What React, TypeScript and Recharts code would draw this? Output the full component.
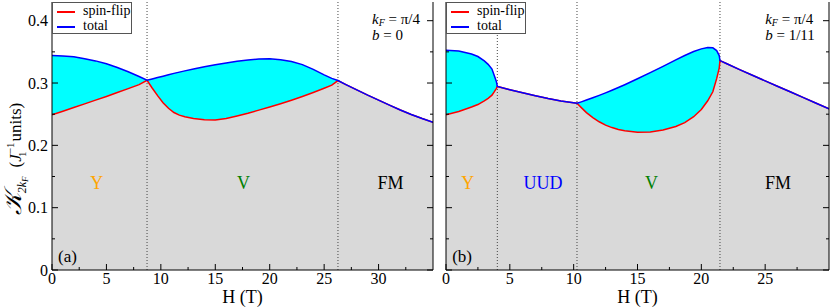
import React from 'react';
import {
  ComposedChart, Area, Line, XAxis, YAxis, ReferenceLine, ReferenceDot, Legend,
} from 'recharts';

// panel (a): b = 0
const hA = [0, 1, 2, 3, 4, 5, 6, 7, 8, 8.73, 9.2, 9.7, 10.2, 10.7, 11.2, 11.7, 12.2, 13, 14, 15, 16, 17, 18, 19, 20, 21, 22, 23, 24, 25, 25.7, 26.27, 27, 28, 29, 30, 31, 32, 33, 34, 35];
const totalA = [0.344, 0.3435, 0.342, 0.339, 0.3355, 0.331, 0.325, 0.318, 0.3105, 0.3045, 0.3065, 0.3088, 0.311, 0.3133, 0.3155, 0.3175, 0.3195, 0.3225, 0.3262, 0.3293, 0.3322, 0.3348, 0.3368, 0.3385, 0.339, 0.3375, 0.3345, 0.3295, 0.322, 0.313, 0.3075, 0.304, 0.2975, 0.289, 0.2805, 0.2725, 0.2645, 0.2567, 0.2495, 0.243, 0.237];
const spinA = [0.249, 0.2548, 0.2606, 0.2665, 0.2725, 0.2785, 0.2848, 0.291, 0.2975, 0.3045, 0.292, 0.2798, 0.2685, 0.2595, 0.2527, 0.2485, 0.2458, 0.2432, 0.2409, 0.2408, 0.2432, 0.2472, 0.2515, 0.2565, 0.2615, 0.2668, 0.2725, 0.2785, 0.2848, 0.2915, 0.2965, 0.304, 0.2975, 0.289, 0.2805, 0.2725, 0.2645, 0.2567, 0.2495, 0.243, 0.237];
const boundsA = [8.73, 26.27];
const xTicksA = [0, 2.5, 5, 7.5, 10, 12.5, 15, 17.5, 20, 22.5, 25, 27.5, 30, 32.5];
const xLabelsA = [0, 5, 10, 15, 20, 25, 30];

// panel (b): b = 1/11
const hB = [0, 1, 2, 2.5, 3, 3.3, 3.6, 3.8, 3.95, 4.02, 5, 6, 7, 8, 9, 10.26, 10.6, 11, 11.5, 12, 12.5, 13, 13.5, 14, 15, 16, 17, 18, 18.7, 19.4, 20, 20.5, 20.9, 21.2, 21.4, 21.46, 22, 23, 24, 25, 26, 27, 28, 29, 30];
const totalB = [0.3525, 0.3515, 0.3465, 0.3425, 0.3355, 0.33, 0.3225, 0.311, 0.302, 0.2945, 0.2893, 0.2843, 0.2795, 0.275, 0.2712, 0.2675, 0.2698, 0.2727, 0.2764, 0.2802, 0.2842, 0.2884, 0.2928, 0.2973, 0.3068, 0.3167, 0.3268, 0.3371, 0.3441, 0.3505, 0.3548, 0.357, 0.3565, 0.352, 0.344, 0.336, 0.331, 0.3215, 0.3125, 0.3035, 0.2945, 0.2855, 0.2765, 0.2675, 0.2585];
const spinB = [0.249, 0.2543, 0.2615, 0.2655, 0.2715, 0.2755, 0.2805, 0.2865, 0.2915, 0.2945, 0.2893, 0.2843, 0.2795, 0.275, 0.2712, 0.2675, 0.2605, 0.2525, 0.2445, 0.2378, 0.2325, 0.2285, 0.2255, 0.2233, 0.2212, 0.2215, 0.2245, 0.2302, 0.2365, 0.246, 0.2575, 0.2715, 0.286, 0.307, 0.324, 0.336, 0.331, 0.3215, 0.3125, 0.3035, 0.2945, 0.2855, 0.2765, 0.2675, 0.2585];
const boundsB = [4.02, 10.26, 21.46];
const xTicksB = [0, 2.5, 5, 7.5, 10, 12.5, 15, 17.5, 20, 22.5, 25, 27.5];
const xLabelsB = [0, 5, 10, 15, 20, 25];

const yTicks = [0, 0.05, 0.1, 0.15, 0.2, 0.25, 0.3, 0.35, 0.4];
const yMax = 0.43;

const phasesA = [
  { text: 'Y', h: 4.1, color: '#FFA500' },
  { text: 'V', h: 17.6, color: '#008000' },
  { text: 'FM', h: 31.1, color: '#000000' },
];
const phasesB = [
  { text: 'Y', h: 1.7, color: '#FFA500' },
  { text: 'UUD', h: 7.6, color: '#0000FF' },
  { text: 'V', h: 16.1, color: '#008000' },
  { text: 'FM', h: 26.0, color: '#000000' },
];

const makeRows = (h: number[], total: number[], spin: number[]) =>
  h.map((v, i) => ({ h: v, total: total[i], spin: spin[i], band: [spin[i], total[i]] }));

const rowsA = makeRows(hA, totalA, spinA);
const rowsB = makeRows(hB, totalB, spinB);

const FONT = '"Liberation Serif", "Times New Roman", serif';

const XTick = (props: any) => {
  const { x, y, payload, top, labels } = props;
  const v = payload.value;
  const major = Math.abs(v % 5) < 1e-6;
  const len = major ? 6 : 3;
  const dir = top ? 1 : -1;
  return (
    <g>
      <line x1={x} x2={x} y1={y} y2={y + dir * len} stroke="#000" strokeWidth={1} />
      {!top && labels.includes(v) && (
        <text x={x} y={y + 14} textAnchor="middle" fontSize={16} fontFamily={FONT} fill="#000">{v}</text>
      )}
    </g>
  );
};

const YTick = (props: any) => {
  const { x, y, payload, right, showLabel } = props;
  const v = payload.value;
  const major = Math.abs(Math.round(v * 100) % 10) === 0;
  const len = major ? 6 : 3;
  const dir = right ? -1 : 1;
  return (
    <g>
      <line x1={x} x2={x + dir * len} y1={y} y2={y} stroke="#000" strokeWidth={1} />
      {showLabel && major && (
        <text x={x - 4} y={y + 5.5} textAnchor="end" fontSize={16} fontFamily={FONT} fill="#000">
          {v === 0 ? '0' : v.toFixed(1)}
        </text>
      )}
    </g>
  );
};

const YTitle = () => (
  <text transform="translate(21,159) rotate(-90)" textAnchor="middle" fontSize={17} fontFamily={FONT} fill="#000">
    <tspan fontSize={24} fontStyle="italic">𝒦</tspan>
    <tspan fontSize={12} fontStyle="italic" dy={5}>2k</tspan>
    <tspan fontSize={9} fontStyle="italic" dy={2}>F</tspan>
    <tspan dy={-7} dx={9}>(</tspan>
    <tspan fontStyle="italic">J</tspan>
    <tspan fontSize={11} dy={-7}>−1</tspan>
    <tspan fontSize={11} dx={-14} dy={12}>1</tspan>
    <tspan dy={-5} dx={10}>units)</tspan>
  </text>
);

const Note = (props: any) => {
  const { viewBox, b } = props;
  const x = viewBox.x;
  const y = viewBox.y;
  return (
    <g fontFamily={FONT} fontSize={14} fill="#000">
      <text x={x} y={y}>
        <tspan fontStyle="italic" fontSize={15}>k</tspan>
        <tspan fontStyle="italic" fontSize={10} dy={2}>F</tspan>
        <tspan dy={-2} fontSize={15}> = π/4</tspan>
      </text>
      <text x={x} y={y + 16}>
        <tspan fontStyle="italic" fontSize={15}>b</tspan>
        <tspan fontSize={15}> = {b}</tspan>
      </text>
    </g>
  );
};

const Tag = (props: any) => {
  const { viewBox, value } = props;
  return (
    <text x={viewBox.x} y={viewBox.y} fontSize={17} fontFamily={FONT} fill="#000">{value}</text>
  );
};

const Phase = (props: any) => {
  const { viewBox, value, color } = props;
  return (
    <text x={viewBox.x} y={viewBox.y + 6} textAnchor="middle" fontSize={18} fontFamily={FONT} fill={color}>{value}</text>
  );
};

const LegendBox = () => (
  <div style={{
    width: 80, height: 32, border: '1px solid #555', background: '#fff', boxSizing: 'border-box',
    position: 'relative', fontFamily: FONT, fontSize: 14, color: '#000',
  }}>
    <div style={{ position: 'absolute', left: 4, top: 8, width: 18, height: 2, background: '#FF0000' }} />
    <div style={{ position: 'absolute', left: 30, top: 0, lineHeight: '15px' }}>spin-flip</div>
    <div style={{ position: 'absolute', left: 4, top: 23, width: 18, height: 2, background: '#0000FF' }} />
    <div style={{ position: 'absolute', left: 30, top: 15, lineHeight: '15px' }}>total</div>
  </div>
);

interface PanelProps {
  rows: any[];
  width: number;
  margin: { top: number; right: number; bottom: number; left: number };
  leftAxisWidth: number;
  xMax: number;
  xTicks: number[];
  xLabels: number[];
  bounds: number[];
  phases: { text: string; h: number; color: string }[];
  showYLabels: boolean;
  noteH: number;
  b: string;
  tag: string;
}

const Panel: React.FC<PanelProps> = (p) => (
  <ComposedChart width={p.width} height={307} data={p.rows} margin={p.margin}>
    <XAxis
      dataKey="h" type="number" domain={[0, p.xMax]} ticks={p.xTicks} interval={0}
      allowDataOverflow tickSize={0} tickMargin={0} tickLine={false} height={37}
      axisLine={{ stroke: '#000' }}
      tick={<XTick top={false} labels={p.xLabels} />}
      label={{ value: 'H (T)', position: 'insideBottom', offset: 4, fontSize: 18, fill: '#000', fontFamily: FONT }}
    />
    <XAxis
      xAxisId="t" orientation="top" type="number" domain={[0, p.xMax]} ticks={p.xTicks} interval={0}
      allowDataOverflow tickSize={0} tickMargin={0} tickLine={false} height={0}
      axisLine={{ stroke: '#000' }}
      tick={<XTick top labels={[]} />}
    />
    <YAxis
      type="number" domain={[0, yMax]} ticks={yTicks} interval={0} allowDataOverflow
      width={p.leftAxisWidth} tickSize={0} tickMargin={0} tickLine={false}
      axisLine={{ stroke: '#000' }}
      tick={<YTick right={false} showLabel={p.showYLabels} />}
      label={p.showYLabels ? <YTitle /> : undefined}
    />
    <YAxis
      yAxisId="r" orientation="right" type="number" domain={[0, yMax]} ticks={yTicks} interval={0}
      allowDataOverflow width={1} tickSize={0} tickMargin={0} tickLine={false}
      axisLine={{ stroke: '#000' }}
      tick={<YTick right showLabel={false} />}
    />
    <Legend
      layout="vertical" align="center" verticalAlign="middle"
      wrapperStyle={{ left: p.margin.left + p.leftAxisWidth, top: p.margin.top, width: 'auto', height: 'auto' }}
      content={() => <LegendBox />}
    />
    <Area type="linear" dataKey="spin" stroke="none" fill="#D9D9D9" fillOpacity={1} isAnimationActive={false} legendType="none" />
    <Area type="linear" dataKey="band" stroke="none" fill="#00FFFF" fillOpacity={1} isAnimationActive={false} legendType="none" />
    {p.bounds.map((h) => (
      <ReferenceLine key={h} x={h} stroke="#444" strokeWidth={1} strokeDasharray="1 2" />
    ))}
    <Line type="linear" dataKey="spin" stroke="#FF0000" strokeWidth={1.5} dot={false} isAnimationActive={false} />
    <Line type="linear" dataKey="total" stroke="#0000FF" strokeWidth={1.5} dot={false} isAnimationActive={false} />
    {p.phases.map((ph) => (
      <ReferenceDot
        key={ph.text} x={ph.h} y={0.14} r={0} stroke="none" fill="none"
        label={<Phase value={ph.text} color={ph.color} />}
      />
    ))}
    <ReferenceDot x={p.noteH} y={0.3955} r={0} stroke="none" fill="none" label={<Note b={p.b} />} />
    <ReferenceDot x={p.xMax * 0.016} y={0.013} r={0} stroke="none" fill="none" label={<Tag value={p.tag} />} />
  </ComposedChart>
);

export default function App() {
  return (
    <div style={{ position: 'absolute', left: 0, top: 0, width: 830, height: 307, background: '#fff', fontFamily: FONT }}>
      <div style={{ position: 'absolute', left: 0, top: 0 }}>
        <Panel
          rows={rowsA} width={440} margin={{ top: 2, right: 6, bottom: 0, left: 12 }} leftAxisWidth={40}
          xMax={35} xTicks={xTicksA} xLabels={xLabelsA} bounds={boundsA} phases={phasesA}
          showYLabels noteH={29.4} b="0" tag="(a)"
        />
      </div>
      <div style={{ position: 'absolute', left: 440, top: 0 }}>
        <Panel
          rows={rowsB} width={390} margin={{ top: 2, right: 0, bottom: 0, left: 5 }} leftAxisWidth={1}
          xMax={30} xTicks={xTicksB} xLabels={xLabelsB} bounds={boundsB} phases={phasesB}
          showYLabels={false} noteH={25.0} b="1/11" tag="(b)"
        />
      </div>
    </div>
  );
}
